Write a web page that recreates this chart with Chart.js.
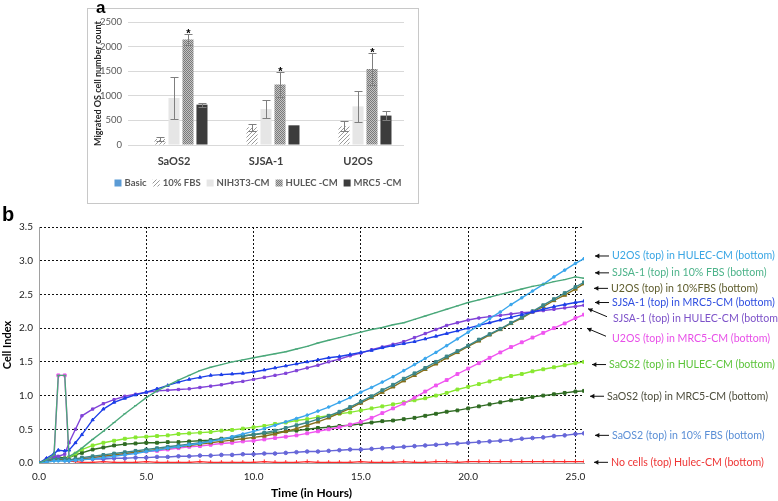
<!DOCTYPE html>
<html>
<head>
<meta charset="utf-8">
<script src="https://cdn.jsdelivr.net/npm/chart.js@4.4.0/dist/chart.umd.min.js"></script>
<style>
  body { margin: 0; background: #fff; width: 778px; height: 501px; position: relative; overflow: hidden; font-family: Lato, sans-serif; }
  #boxA { position: absolute; left: 87px; top: 8px; width: 330px; height: 194px; border: 1px solid #c8c8c8; }
  #chartA { position: absolute; left: 0; top: 0; }
  #chartB { position: absolute; left: 0; top: 205px; }
  .panel { position: absolute; font-family: "Liberation Sans", Arial, sans-serif; font-weight: bold; color: #000; }
</style>
</head>
<body>
<div id="boxA"></div>
<canvas id="chartA" width="430" height="210"></canvas>
<canvas id="chartB" width="778" height="296"></canvas>
<div class="panel" style="left:96px; top:-2px; font-size:17px;">a</div>
<div class="panel" style="left:2px; top:203px; font-size:20px;">b</div>
<script>
// ---- panel a : migration counts ----
const categories = ['SaOS2', 'SJSA-1', 'U2OS'];
const basicCounts = [0, 0, 0];
const fbsCounts = [122, 360, 380];
const fbsErr = [40, 70, 100];
const nih3t3Counts = [955, 730, 785];
const nih3t3Err = [430, 180, 320];
const hulecCounts = [2145, 1230, 1545];
const hulecErr = [105, 250, 320];
const mrc5Counts = [820, 400, 598];
const mrc5Err = [40, 0, 85];

// ---- panel b : cell index over time ----
const timeHours = [0, 0.35, 0.7, 0.9, 1.2, 1.4, 1.7,
  2, 2.5, 3, 3.5, 4, 4.5, 5, 5.5, 6, 6.5, 7, 7.5, 8, 8.5, 9, 9.5, 10,
  10.5, 11, 11.5, 12, 12.5, 13, 13.5, 14, 14.5, 15, 15.5, 16, 16.5, 17, 17.5, 18,
  18.5, 19, 19.5, 20, 20.5, 21, 21.5, 22, 22.5, 23, 23.5, 24, 24.5, 25, 25.4];

const u2osHulec = [0, 0.01, 0.03, 0.03, 0.03, 0.03, 0.04,
  0.05, 0.06, 0.08, 0.10, 0.12, 0.14, 0.17, 0.19, 0.22, 0.24, 0.27, 0.29, 0.32, 0.35, 0.39, 0.43, 0.47,
  0.51, 0.56, 0.61, 0.66, 0.71, 0.77, 0.83, 0.90, 0.97, 1.05, 1.12, 1.20, 1.28, 1.37, 1.46, 1.55,
  1.64, 1.74, 1.84, 1.94, 2.04, 2.14, 2.24, 2.35, 2.45, 2.55, 2.65, 2.76, 2.86, 2.96, 3.03];
const sjsaFbs = [0, 0.05, 0.12, 1.30, 1.30, 0.10, 0.15,
  0.22, 0.35, 0.47, 0.60, 0.73, 0.85, 0.97, 1.07, 1.15, 1.23, 1.30, 1.37, 1.42, 1.46, 1.50, 1.53, 1.56,
  1.59, 1.62, 1.65, 1.69, 1.73, 1.78, 1.82, 1.86, 1.90, 1.94, 1.98, 2.01, 2.05, 2.08, 2.13, 2.18,
  2.23, 2.28, 2.33, 2.38, 2.42, 2.46, 2.50, 2.54, 2.58, 2.62, 2.65, 2.69, 2.72, 2.76, 2.74];
const u2osFbs = [0, 0.03, 0.06, 0.06, 0.05, 0.05, 0.05,
  0.06, 0.08, 0.10, 0.12, 0.14, 0.16, 0.18, 0.20, 0.22, 0.24, 0.26, 0.28, 0.30, 0.32, 0.34, 0.36, 0.38,
  0.40, 0.43, 0.47, 0.51, 0.56, 0.61, 0.67, 0.74, 0.81, 0.89, 0.97, 1.05, 1.13, 1.22, 1.30, 1.39,
  1.47, 1.56, 1.64, 1.73, 1.81, 1.90, 1.98, 2.07, 2.15, 2.24, 2.32, 2.41, 2.49, 2.58, 2.66];
const u2osFbsRep = [0, 0.03, 0.07, 0.07, 0.06, 0.05, 0.06,
  0.08, 0.10, 0.12, 0.14, 0.16, 0.18, 0.20, 0.22, 0.24, 0.26, 0.28, 0.30, 0.33, 0.35, 0.37, 0.40, 0.42,
  0.45, 0.48, 0.52, 0.56, 0.60, 0.65, 0.70, 0.76, 0.83, 0.91, 0.99, 1.08, 1.16, 1.25, 1.33, 1.41,
  1.50, 1.58, 1.66, 1.74, 1.83, 1.91, 1.99, 2.08, 2.16, 2.25, 2.34, 2.43, 2.52, 2.61, 2.68];
const sjsaMrc5 = [0, 0.07, 0.14, 0.19, 0.18, 0.19, 0.30,
  0.42, 0.64, 0.80, 0.90, 0.96, 1.01, 1.05, 1.10, 1.15, 1.20, 1.24, 1.27, 1.30, 1.31, 1.32, 1.33, 1.35,
  1.38, 1.41, 1.44, 1.47, 1.50, 1.53, 1.56, 1.58, 1.61, 1.64, 1.67, 1.71, 1.74, 1.77, 1.80, 1.84,
  1.88, 1.92, 1.96, 2.00, 2.04, 2.08, 2.12, 2.16, 2.20, 2.24, 2.28, 2.32, 2.35, 2.38, 2.40];
const sjsaHulec = [0, 0.06, 0.10, 0.10, 0.13, 0.30, 0.50,
  0.70, 0.80, 0.88, 0.94, 0.99, 1.02, 1.05, 1.07, 1.08, 1.09, 1.10, 1.12, 1.14, 1.16, 1.19, 1.21, 1.24,
  1.27, 1.30, 1.33, 1.37, 1.41, 1.45, 1.50, 1.54, 1.59, 1.63, 1.68, 1.72, 1.76, 1.80, 1.86, 1.92,
  1.98, 2.04, 2.08, 2.12, 2.15, 2.17, 2.19, 2.21, 2.23, 2.24, 2.26, 2.28, 2.30, 2.32, 2.34];
const u2osMrc5 = [0, 0.05, 0.10, 1.30, 1.30, 0.05, 0.05,
  0.07, 0.08, 0.10, 0.11, 0.13, 0.15, 0.17, 0.18, 0.20, 0.22, 0.24, 0.25, 0.27, 0.29, 0.30, 0.32, 0.33,
  0.35, 0.37, 0.39, 0.41, 0.44, 0.47, 0.50, 0.53, 0.57, 0.61, 0.67, 0.74, 0.81, 0.88, 0.97, 1.06,
  1.15, 1.23, 1.32, 1.40, 1.48, 1.56, 1.64, 1.72, 1.79, 1.86, 1.93, 2.00, 2.07, 2.15, 2.20];
const saos2Hulec = [0, 0.04, 0.07, 0.06, 0.05, 0.08, 0.14,
  0.20, 0.26, 0.30, 0.33, 0.36, 0.38, 0.39, 0.40, 0.41, 0.43, 0.44, 0.45, 0.46, 0.48, 0.49, 0.51, 0.53,
  0.55, 0.58, 0.60, 0.63, 0.65, 0.68, 0.70, 0.73, 0.75, 0.78, 0.81, 0.84, 0.87, 0.90, 0.93, 0.96,
  1.00, 1.04, 1.09, 1.13, 1.17, 1.21, 1.25, 1.29, 1.32, 1.36, 1.39, 1.42, 1.45, 1.48, 1.50];
const saos2Mrc5 = [0, 0.04, 0.08, 0.09, 0.07, 0.08, 0.12,
  0.15, 0.20, 0.23, 0.26, 0.28, 0.29, 0.30, 0.30, 0.31, 0.31, 0.32, 0.33, 0.34, 0.36, 0.38, 0.40, 0.42,
  0.44, 0.45, 0.47, 0.48, 0.50, 0.52, 0.53, 0.55, 0.56, 0.58, 0.60, 0.62, 0.63, 0.65, 0.67, 0.70,
  0.73, 0.76, 0.78, 0.81, 0.84, 0.87, 0.90, 0.93, 0.95, 0.98, 1.00, 1.02, 1.04, 1.06, 1.07];
const saos2Fbs = [0, 0.03, 0.05, 0.05, 0.04, 0.04, 0.05,
  0.05, 0.06, 0.06, 0.07, 0.07, 0.08, 0.08, 0.09, 0.09, 0.10, 0.10, 0.11, 0.11, 0.12, 0.12, 0.13, 0.13,
  0.14, 0.14, 0.15, 0.16, 0.17, 0.17, 0.18, 0.19, 0.20, 0.20, 0.21, 0.22, 0.23, 0.24, 0.25, 0.26,
  0.27, 0.28, 0.29, 0.30, 0.31, 0.32, 0.33, 0.34, 0.36, 0.37, 0.38, 0.40, 0.41, 0.43, 0.44];
const noCells = [0, 0.04, 0.07, 0.08, 0.05, 0.03, 0.02,
  0.01, 0.01, 0.02, 0.01, 0.01, 0.01, 0.02, 0.01, 0.01, 0.01, 0.01, 0.02, 0.01, 0.01, 0.01, 0.01, 0.01,
  0.02, 0.01, 0.01, 0.01, 0.02, 0.01, 0.01, 0.01, 0.01, 0.02, 0.01, 0.01, 0.01, 0.02, 0.01, 0.01,
  0.02, 0.02, 0.01, 0.02, 0.02, 0.02, 0.02, 0.02, 0.02, 0.02, 0.02, 0.02, 0.02, 0.02, 0.02];

// right-hand labels, top to bottom, and the cell index they sit at
const endLabels = ['U2OS (top) in HULEC-CM (bottom)', 'SJSA-1 (top) in 10% FBS (bottom)',
  'U2OS (top) in 10%FBS (bottom)', 'SJSA-1 (top) in MRC5-CM (bottom)', 'SJSA-1 (top) in HULEC-CM (bottom)',
  'U2OS (top) in MRC5-CM (bottom)', 'SaOS2 (top) in HULEC-CM (bottom)', 'SaOS2 (top) in MRC5-CM (bottom)',
  'SaOS2 (top) in 10% FBS (bottom)', 'No cells (top) Hulec-CM (bottom)'];
const endLabelAt = [3.07, 2.82, 2.59, 2.38, 2.14, 1.85, 1.46, 0.99, 0.41, 0.01];
const endLabelColors = ['#3aa6e4', '#4db38a', '#5e5c2c', '#2f4ee0', '#7d52c9',
  '#e84fe8', '#5cc43a', '#4d4d3c', '#5b8fd6', '#ee3535'];
const endLabelX = [612, 612, 611, 612, 613, 612, 609, 607, 612, 611];

function makePattern(size, draw) {
  const c = document.createElement('canvas');
  c.width = size; c.height = size;
  const g = c.getContext('2d');
  draw(g);
  return g.createPattern(c, 'repeat');
}

const hatch = makePattern(4, g => {
  g.fillStyle = '#fff'; g.fillRect(0, 0, 4, 4);
  g.strokeStyle = '#9a9a9a'; g.lineWidth = 1;
  g.beginPath();
  g.moveTo(0, 4); g.lineTo(4, 0);
  g.moveTo(-1, 1); g.lineTo(1, -1);
  g.moveTo(3, 5); g.lineTo(5, 3);
  g.stroke();
});
const checker = makePattern(2, g => {
  g.fillStyle = '#c4c4c4'; g.fillRect(0, 0, 2, 2);
  g.fillStyle = '#7a7a7a'; g.fillRect(0, 0, 1, 1); g.fillRect(1, 1, 1, 1);
});

const errorBars = {
  id: 'errorBars',
  afterDatasetsDraw(chart) {
    const { ctx } = chart;
    const y = chart.scales.y;
    ctx.save();
    ctx.strokeStyle = '#7f7f7f';
    ctx.lineWidth = 1;
    chart.data.datasets.forEach((ds, di) => {
      if (!ds.errors) return;
      chart.getDatasetMeta(di).data.forEach((bar, i) => {
        const e = ds.errors[i];
        if (!e) return;
        const top = Math.round(y.getPixelForValue(ds.data[i] + e)) + 0.5;
        const bot = Math.round(y.getPixelForValue(ds.data[i] - e)) + 0.5;
        const x = Math.round(bar.x) + 0.5;
        ctx.beginPath();
        ctx.moveTo(x, top); ctx.lineTo(x, bot);
        ctx.moveTo(x - 4, top); ctx.lineTo(x + 4, top);
        ctx.moveTo(x - 4, bot); ctx.lineTo(x + 4, bot);
        ctx.stroke();
        if (ds.starred) {
          ctx.fillStyle = '#000';
          ctx.font = 'bold 11px "Liberation Sans", Arial';
          ctx.textAlign = 'center';
          ctx.fillText('*', x, top + 2);
        }
      });
    });
    ctx.restore();
  }
};

// legend of panel a, one row under the category names
const boxLegend = {
  id: 'boxLegend',
  afterDraw(chart) {
    const { ctx } = chart;
    ctx.save();
    ctx.font = 'bold 9.5px Lato';
    ctx.textBaseline = 'middle';
    const items = chart.data.datasets.map(ds => ({ text: ds.label, fill: ds.backgroundColor, w: ctx.measureText(ds.label).width }));
    const box = 7, gap = 3, space = 6;
    const total = items.reduce((s, it) => s + box + gap + it.w, 0) + space * (items.length - 1);
    let x = 258 - total / 2;
    const y = 183;
    items.forEach(it => {
      ctx.fillStyle = it.fill;
      ctx.fillRect(x, y - 3.5, box, box);
      ctx.fillStyle = '#595959';
      ctx.fillText(it.text, x + box + gap, y);
      x += box + gap + it.w + space;
    });
    ctx.restore();
  }
};

new Chart(document.getElementById('chartA'), {
  type: 'bar',
  data: {
    labels: categories,
    datasets: [
      { label: 'Basic', data: basicCounts, backgroundColor: '#5b9bd5' },
      { label: '10% FBS', data: fbsCounts, errors: fbsErr, backgroundColor: hatch },
      { label: 'NIH3T3-CM', data: nih3t3Counts, errors: nih3t3Err, backgroundColor: '#e6e6e6' },
      { label: 'HULEC -CM', data: hulecCounts, errors: hulecErr, starred: true, backgroundColor: checker },
      { label: 'MRC5 -CM', data: mrc5Counts, errors: mrc5Err, backgroundColor: '#3c3c3c' }
    ]
  },
  options: {
    responsive: false,
    animation: false,
    categoryPercentage: 0.76,
    barPercentage: 0.79,
    layout: { padding: { left: 92, right: 26, top: 22, bottom: 33 } },
    scales: {
      x: {
        grid: { display: false },
        border: { display: false },
        ticks: { color: '#404040', font: { family: 'Lato', size: 11, weight: 'bold' }, padding: 2 },
        afterFit: s => { s.height = 32; }
      },
      y: {
        min: 0, max: 2500,
        ticks: { stepSize: 500, color: '#595959', font: { family: 'Lato', size: 9.5 }, padding: 6,
          callback: v => String(v) },
        grid: { color: '#d9d9d9', drawTicks: false },
        border: { display: false },
        title: { display: true, text: 'Migrated OS cell number count', color: '#262626',
          font: { family: 'Lato', size: 9, weight: 'bold' }, padding: { top: 1, bottom: 1 } },
        afterFit: s => { s.width = 36; }
      }
    },
    plugins: { legend: { display: false }, tooltip: { enabled: false } }
  },
  plugins: [errorBars, boxLegend]
});

// first entry is drawn on top
const seriesList = [
  { data: sjsaFbs, color: '#4aa87a', point: 'line', r: 1.5 },
  { data: u2osHulec, color: '#3aa6ec', point: 'circle', r: 1.3 },
  { data: sjsaMrc5, color: '#1d3fe8', point: 'triangle', r: 1.8 },
  { data: sjsaHulec, color: '#8043d8', point: 'rect', r: 1.6 },
  { data: u2osFbsRep, color: '#3b8688', point: 'rect', r: 2 },
  { data: u2osFbs, color: '#86701c', point: 'triangle', r: 2.3 },
  { data: u2osMrc5, color: '#f055f0', point: 'rect', r: 2 },
  { data: saos2Hulec, color: '#88e830', point: 'rect', r: 2 },
  { data: saos2Mrc5, color: '#2f6b22', point: 'rect', r: 2 },
  { data: saos2Fbs, color: '#6666d8', point: 'circle', r: 1.8 },
  { data: noCells, color: '#ff2a2a', point: 'cross', r: 2.2 }
];

const endLabelPlugin = {
  id: 'endLabels',
  afterDraw(chart) {
    const { ctx } = chart;
    const y = chart.scales.y;
    ctx.save();
    ctx.font = '10.6px Lato';
    ctx.textBaseline = 'middle';
    endLabels.forEach((txt, i) => {
      const py = y.getPixelForValue(endLabelAt[i]);
      const tx = endLabelX[i];
      ctx.fillStyle = endLabelColors[i];
      ctx.fillText(txt, tx, py);
      // arrow pointing back at the curve
      let x1 = tx - 3, y1 = py, x2 = tx - 17, y2 = py;
      if (i === 4 || i === 5) { x1 = tx - 6; y1 = py - 2; x2 = tx - 25; y2 = py - 10; }
      const ang = Math.atan2(y2 - y1, x2 - x1);
      ctx.strokeStyle = '#111'; ctx.fillStyle = '#111'; ctx.lineWidth = 1;
      ctx.beginPath(); ctx.moveTo(x1, y1); ctx.lineTo(x2, y2); ctx.stroke();
      ctx.beginPath();
      ctx.moveTo(x2, y2);
      ctx.lineTo(x2 - 5 * Math.cos(ang - 0.5), y2 - 5 * Math.sin(ang - 0.5));
      ctx.lineTo(x2 - 5 * Math.cos(ang + 0.5), y2 - 5 * Math.sin(ang + 0.5));
      ctx.closePath(); ctx.fill();
    });
    ctx.restore();
  }
};

new Chart(document.getElementById('chartB'), {
  type: 'line',
  data: {
    datasets: seriesList.map(s => ({
      data: timeHours.map((t, i) => ({ x: t, y: s.data[i] })),
      borderColor: s.color,
      backgroundColor: s.color,
      borderWidth: 1.4,
      pointStyle: s.point,
      pointRadius: s.r,
      pointBorderWidth: 1,
      tension: 0
    }))
  },
  options: {
    responsive: false,
    animation: false,
    layout: { padding: { left: 0, right: 194, top: 22, bottom: 0 } },
    scales: {
      x: {
        type: 'linear', min: 0, max: 25.4,
        ticks: { stepSize: 5, includeBounds: false, padding: 8, color: '#222',
          font: { family: 'Lato', size: 10 }, callback: v => v.toFixed(1) },
        grid: { drawTicks: false, color: c => c.tick && c.tick.value === 0 ? 'rgba(0,0,0,0)' : '#111' },
        border: { color: '#a0a0a0', dash: [2, 2] },
        title: { display: true, text: 'Time (in Hours)', color: '#000',
          font: { family: 'Lato', size: 12, weight: 'bold' }, padding: { top: 2, bottom: 1 } },
        afterFit: s => { s.height = 38; }
      },
      y: {
        min: 0, max: 3.5,
        ticks: { stepSize: 0.5, padding: 6, color: '#222',
          font: { family: 'Lato', size: 10 }, callback: v => v.toFixed(1) },
        grid: { drawTicks: false, color: c => c.tick && c.tick.value === 0 ? 'rgba(0,0,0,0)' : '#111' },
        border: { color: '#a0a0a0', dash: [2, 2] },
        title: { display: true, text: 'Cell Index', color: '#000',
          font: { family: 'Lato', size: 11, weight: 'bold' }, padding: { top: 1, bottom: 1 } },
        afterFit: s => { s.width = 39; }
      }
    },
    plugins: { legend: { display: false }, tooltip: { enabled: false } }
  },
  plugins: [endLabelPlugin]
});
</script>
</body>
</html>
